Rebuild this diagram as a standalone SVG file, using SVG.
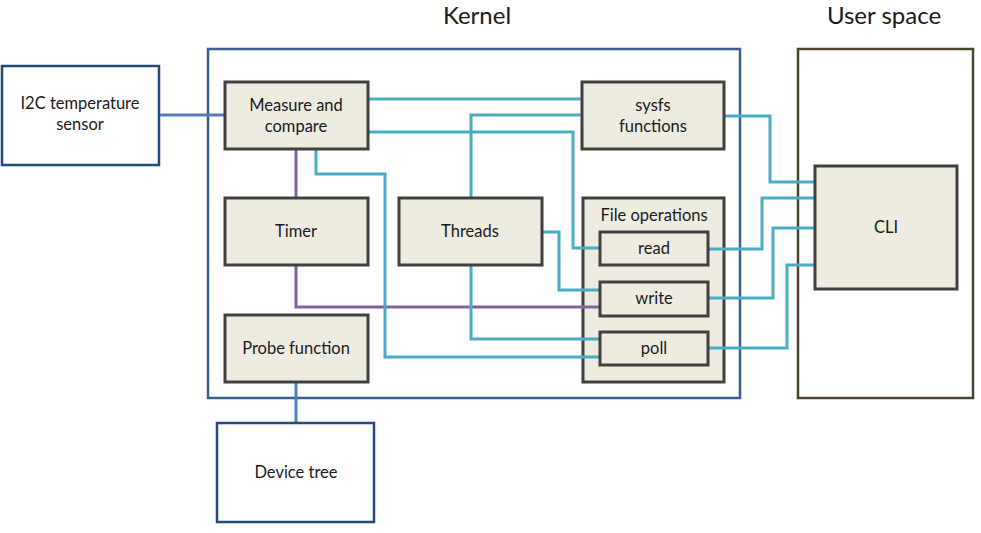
<svg xmlns="http://www.w3.org/2000/svg" width="981" height="533" viewBox="0 0 981 533">
<style>
text{font-family:Lato,"Open Sans","Liberation Sans",sans-serif;fill:#1a1a1a;text-anchor:middle}
.title{font-size:24px}
.lbl{font-size:16.5px}
.node{fill:#eeece1;stroke:#404040;stroke-width:3}
.ext{fill:#fff;stroke:#254a78;stroke-width:2.5}
.c{fill:none;stroke:#4bacc6;stroke-width:3}
.p{fill:none;stroke:#8064a2;stroke-width:3}
.b{fill:none;stroke:#4f81bd;stroke-width:3}
</style>
<rect width="981" height="533" fill="#fff"/>
<g id="kernel">
<rect x="208" y="49" width="532" height="349" fill="#fff" stroke="#3a5f8f" stroke-width="2.5"/>
<text class="title" x="477" y="24">Kernel</text>
</g>
<g id="userspace">
<rect x="798" y="49" width="175" height="349" fill="#fff" stroke="#4a4530" stroke-width="2.5"/>
<text class="title" x="884" y="24">User space</text>
</g>
<g id="fileops">
<rect class="node" x="583" y="198" width="141" height="184"/>
<text class="lbl" x="654" y="221">File operations</text>
</g>
<g id="connectors">
<path class="b" d="M159 115H225"/>
<path class="b" d="M296 382V423"/>
<path class="p" d="M296 149V198"/>
<path class="p" d="M296 265V307H600"/>
<path class="c" d="M368 99H582"/>
<path class="c" d="M471 198V115H582"/>
<path class="c" d="M368 132H573V248H600"/>
<path class="c" d="M316 149V174H385V357H600"/>
<path class="c" d="M542 232H559V290H600"/>
<path class="c" d="M471 265V339H600"/>
<path class="c" d="M724 116H770V182H815"/>
<path class="c" d="M708 249H762V198H815"/>
<path class="c" d="M708 298H773V228H815"/>
<path class="c" d="M708 348H787V265H815"/>
</g>
<g id="i2c">
<rect class="ext" x="2" y="66" width="157" height="99"/>
<text class="lbl" x="80" y="109">I2C temperature</text>
<text class="lbl" x="80" y="130">sensor</text>
</g>
<g id="devicetree">
<rect class="ext" x="217" y="423" width="157" height="99"/>
<text class="lbl" x="296" y="478">Device tree</text>
</g>
<g id="measure">
<rect class="node" x="225" y="82" width="143" height="67"/>
<text class="lbl" x="296" y="111">Measure and</text>
<text class="lbl" x="296" y="132">compare</text>
</g>
<g id="timer">
<rect class="node" x="225" y="198" width="143" height="67"/>
<text class="lbl" x="296" y="237">Timer</text>
</g>
<g id="probe">
<rect class="node" x="225" y="315" width="143" height="67"/>
<text class="lbl" x="296" y="354">Probe function</text>
</g>
<g id="threads">
<rect class="node" x="399" y="198" width="143" height="67"/>
<text class="lbl" x="470" y="237">Threads</text>
</g>
<g id="sysfs">
<rect class="node" x="582" y="82" width="142" height="67"/>
<text class="lbl" x="653" y="111">sysfs</text>
<text class="lbl" x="653" y="132">functions</text>
</g>
<g id="read">
<rect class="node" x="600" y="232" width="108" height="33"/>
<text class="lbl" x="654" y="254">read</text>
</g>
<g id="write">
<rect class="node" x="600" y="282" width="108" height="34"/>
<text class="lbl" x="654" y="304">write</text>
</g>
<g id="poll">
<rect class="node" x="600" y="332" width="108" height="33"/>
<text class="lbl" x="654" y="354">poll</text>
</g>
<g id="cli">
<rect class="node" x="815" y="166" width="142" height="123"/>
<text class="lbl" x="886" y="233">CLI</text>
</g>
</svg>
